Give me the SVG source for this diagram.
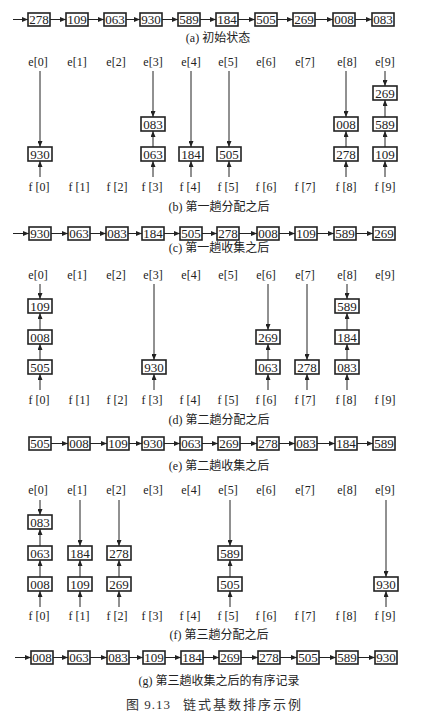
<svg xmlns="http://www.w3.org/2000/svg" width="423" height="721" viewBox="0 0 423 721">
<style>
.bg{fill:#fff}
.b{fill:#fff;stroke:#222;stroke-width:1.6}
.t{font-family:'Liberation Serif','Times New Roman','DejaVu Serif','Noto Sans CJK SC',serif;font-size:12px;fill:#222;text-anchor:middle}
.n{font-family:'Liberation Serif','Times New Roman','DejaVu Serif',serif;font-size:13px;fill:#222;text-anchor:middle}
.cap{font-family:'Liberation Serif','Times New Roman','DejaVu Serif','Noto Sans CJK SC',serif;font-size:12px;fill:#222;text-anchor:middle}
.fig{font-family:'Liberation Serif','Times New Roman','DejaVu Serif','Noto Sans CJK SC',serif;font-size:13px;fill:#333}
.cn line{stroke:#222;stroke-width:1;marker-end:url(#ah)}
</style>
<defs>
<marker id="ah" markerUnits="userSpaceOnUse" markerWidth="6" markerHeight="5" refX="6" refY="2.5" orient="auto">
<path d="M0,0 L6,2.5 L0,5 z" fill="#222"/>
</marker>
</defs>
<rect class="bg" x="0" y="0" width="423" height="721"/>

<!-- (a) initial list -->
<g id="a0"><rect class="b" x="28" y="13" width="22" height="13"/><text class="n" x="39" y="24">278</text></g>
<g id="a1"><rect class="b" x="66" y="13" width="22" height="13"/><text class="n" x="77" y="24">109</text></g>
<g id="a2"><rect class="b" x="104" y="13" width="22" height="13"/><text class="n" x="115" y="24">063</text></g>
<g id="a3"><rect class="b" x="140" y="13" width="22" height="13"/><text class="n" x="151" y="24">930</text></g>
<g id="a4"><rect class="b" x="178" y="13" width="22" height="13"/><text class="n" x="189" y="24">589</text></g>
<g id="a5"><rect class="b" x="216" y="13" width="22" height="13"/><text class="n" x="227" y="24">184</text></g>
<g id="a6"><rect class="b" x="255" y="13" width="22" height="13"/><text class="n" x="266" y="24">505</text></g>
<g id="a7"><rect class="b" x="293" y="13" width="22" height="13"/><text class="n" x="304" y="24">269</text></g>
<g id="a8"><rect class="b" x="333" y="13" width="22" height="13"/><text class="n" x="344" y="24">008</text></g>
<g id="a9"><rect class="b" x="372" y="13" width="22" height="13"/><text class="n" x="383" y="24">083</text></g>
<text class="cap" x="218" y="42">(a) 初始状态</text>

<!-- (b) -->
<g id="b-labels">
<text class="t" x="38" y="66">e[0]</text><text class="t" x="77" y="66">e[1]</text><text class="t" x="116" y="66">e[2]</text><text class="t" x="153" y="66">e[3]</text><text class="t" x="191" y="66">e[4]</text><text class="t" x="228" y="66">e[5]</text><text class="t" x="266" y="66">e[6]</text><text class="t" x="305" y="66">e[7]</text><text class="t" x="347" y="66">e[8]</text><text class="t" x="385" y="66">e[9]</text>
<text class="t" x="39" y="191">f [0]</text><text class="t" x="79" y="191">f [1]</text><text class="t" x="117" y="191">f [2]</text><text class="t" x="152" y="191">f [3]</text><text class="t" x="190" y="191">f [4]</text><text class="t" x="228" y="191">f [5]</text><text class="t" x="266" y="191">f [6]</text><text class="t" x="305" y="191">f [7]</text><text class="t" x="346" y="191">f [8]</text><text class="t" x="385" y="191">f [9]</text>
</g>
<g id="b930"><rect class="b" x="28" y="147" width="24" height="14"/><text class="n" x="40" y="158.5">930</text></g>
<g id="b063"><rect class="b" x="141" y="147" width="24" height="14"/><text class="n" x="153" y="158.5">063</text></g>
<g id="b083"><rect class="b" x="141" y="117" width="24" height="14"/><text class="n" x="153" y="128.5">083</text></g>
<g id="b184"><rect class="b" x="179" y="147" width="24" height="14"/><text class="n" x="191" y="158.5">184</text></g>
<g id="b505"><rect class="b" x="217" y="147" width="24" height="14"/><text class="n" x="229" y="158.5">505</text></g>
<g id="b278"><rect class="b" x="334" y="147" width="24" height="14"/><text class="n" x="346" y="158.5">278</text></g>
<g id="b008"><rect class="b" x="334" y="117" width="24" height="14"/><text class="n" x="346" y="128.5">008</text></g>
<g id="b109"><rect class="b" x="373" y="147" width="24" height="14"/><text class="n" x="385" y="158.5">109</text></g>
<g id="b589"><rect class="b" x="373" y="117" width="24" height="14"/><text class="n" x="385" y="128.5">589</text></g>
<g id="b269"><rect class="b" x="373" y="86" width="24" height="14"/><text class="n" x="385" y="97.5">269</text></g>
<text class="cap" x="219" y="211">(b) 第一趟分配之后</text>

<!-- (c) -->
<g id="c0"><rect class="b" x="29" y="227" width="22" height="13"/><text class="n" x="40" y="238">930</text></g>
<g id="c1"><rect class="b" x="68" y="227" width="22" height="13"/><text class="n" x="79" y="238">063</text></g>
<g id="c2"><rect class="b" x="106" y="227" width="22" height="13"/><text class="n" x="117" y="238">083</text></g>
<g id="c3"><rect class="b" x="142" y="227" width="22" height="13"/><text class="n" x="153" y="238">184</text></g>
<g id="c4"><rect class="b" x="180" y="227" width="22" height="13"/><text class="n" x="191" y="238">505</text></g>
<g id="c5"><rect class="b" x="217" y="227" width="22" height="13"/><text class="n" x="228" y="238">278</text></g>
<g id="c6"><rect class="b" x="257" y="227" width="22" height="13"/><text class="n" x="268" y="238">008</text></g>
<g id="c7"><rect class="b" x="295" y="227" width="22" height="13"/><text class="n" x="306" y="238">109</text></g>
<g id="c8"><rect class="b" x="334" y="227" width="22" height="13"/><text class="n" x="345" y="238">589</text></g>
<g id="c9"><rect class="b" x="373" y="227" width="22" height="13"/><text class="n" x="384" y="238">269</text></g>
<text class="cap" x="219" y="252">(c) 第一趟收集之后</text>

<!-- (d) -->
<g id="d-labels">
<text class="t" x="38" y="279">e[0]</text><text class="t" x="77" y="279">e[1]</text><text class="t" x="116" y="279">e[2]</text><text class="t" x="153" y="279">e[3]</text><text class="t" x="191" y="279">e[4]</text><text class="t" x="228" y="279">e[5]</text><text class="t" x="266" y="279">e[6]</text><text class="t" x="305" y="279">e[7]</text><text class="t" x="347" y="279">e[8]</text><text class="t" x="385" y="279">e[9]</text>
<text class="t" x="39" y="404">f [0]</text><text class="t" x="79" y="404">f [1]</text><text class="t" x="117" y="404">f [2]</text><text class="t" x="152" y="404">f [3]</text><text class="t" x="190" y="404">f [4]</text><text class="t" x="228" y="404">f [5]</text><text class="t" x="266" y="404">f [6]</text><text class="t" x="305" y="404">f [7]</text><text class="t" x="346" y="404">f [8]</text><text class="t" x="385" y="404">f [9]</text>
</g>
<g id="d505"><rect class="b" x="28" y="360" width="24" height="14"/><text class="n" x="40" y="371.5">505</text></g>
<g id="d008"><rect class="b" x="28" y="330" width="24" height="14"/><text class="n" x="40" y="341.5">008</text></g>
<g id="d109"><rect class="b" x="28" y="299" width="24" height="14"/><text class="n" x="40" y="310.5">109</text></g>
<g id="d930"><rect class="b" x="142" y="360" width="24" height="14"/><text class="n" x="154" y="371.5">930</text></g>
<g id="d063"><rect class="b" x="256" y="360" width="24" height="14"/><text class="n" x="268" y="371.5">063</text></g>
<g id="d269"><rect class="b" x="256" y="330" width="24" height="14"/><text class="n" x="268" y="341.5">269</text></g>
<g id="d278"><rect class="b" x="295" y="360" width="24" height="14"/><text class="n" x="307" y="371.5">278</text></g>
<g id="d083"><rect class="b" x="335" y="360" width="24" height="14"/><text class="n" x="347" y="371.5">083</text></g>
<g id="d184"><rect class="b" x="335" y="330" width="24" height="14"/><text class="n" x="347" y="341.5">184</text></g>
<g id="d589"><rect class="b" x="335" y="299" width="24" height="14"/><text class="n" x="347" y="310.5">589</text></g>
<text class="cap" x="219" y="424">(d) 第二趟分配之后</text>

<!-- (e) -->
<g id="e0"><rect class="b" x="29" y="437" width="22" height="13"/><text class="n" x="40" y="448">505</text></g>
<g id="e1"><rect class="b" x="68" y="437" width="22" height="13"/><text class="n" x="79" y="448">008</text></g>
<g id="e2"><rect class="b" x="107" y="437" width="22" height="13"/><text class="n" x="118" y="448">109</text></g>
<g id="e3"><rect class="b" x="142" y="437" width="22" height="13"/><text class="n" x="153" y="448">930</text></g>
<g id="e4"><rect class="b" x="180" y="437" width="22" height="13"/><text class="n" x="191" y="448">063</text></g>
<g id="e5"><rect class="b" x="218" y="437" width="22" height="13"/><text class="n" x="229" y="448">269</text></g>
<g id="e6"><rect class="b" x="257" y="437" width="22" height="13"/><text class="n" x="268" y="448">278</text></g>
<g id="e7"><rect class="b" x="295" y="437" width="22" height="13"/><text class="n" x="306" y="448">083</text></g>
<g id="e8"><rect class="b" x="335" y="437" width="22" height="13"/><text class="n" x="346" y="448">184</text></g>
<g id="e9"><rect class="b" x="373" y="437" width="22" height="13"/><text class="n" x="384" y="448">589</text></g>
<text class="cap" x="219" y="470">(e) 第二趟收集之后</text>

<!-- (f) -->
<g id="f-labels">
<text class="t" x="38" y="494">e[0]</text><text class="t" x="77" y="494">e[1]</text><text class="t" x="116" y="494">e[2]</text><text class="t" x="153" y="494">e[3]</text><text class="t" x="191" y="494">e[4]</text><text class="t" x="228" y="494">e[5]</text><text class="t" x="266" y="494">e[6]</text><text class="t" x="305" y="494">e[7]</text><text class="t" x="347" y="494">e[8]</text><text class="t" x="385" y="494">e[9]</text>
<text class="t" x="39" y="620">f [0]</text><text class="t" x="79" y="620">f [1]</text><text class="t" x="117" y="620">f [2]</text><text class="t" x="152" y="620">f [3]</text><text class="t" x="190" y="620">f [4]</text><text class="t" x="228" y="620">f [5]</text><text class="t" x="266" y="620">f [6]</text><text class="t" x="305" y="620">f [7]</text><text class="t" x="346" y="620">f [8]</text><text class="t" x="385" y="620">f [9]</text>
</g>
<g id="f008"><rect class="b" x="28" y="577" width="24" height="14"/><text class="n" x="40" y="588.5">008</text></g>
<g id="f063"><rect class="b" x="28" y="546" width="24" height="14"/><text class="n" x="40" y="557.5">063</text></g>
<g id="f083"><rect class="b" x="28" y="515" width="24" height="14"/><text class="n" x="40" y="526.5">083</text></g>
<g id="f109"><rect class="b" x="68" y="577" width="24" height="14"/><text class="n" x="80" y="588.5">109</text></g>
<g id="f184"><rect class="b" x="68" y="546" width="24" height="14"/><text class="n" x="80" y="557.5">184</text></g>
<g id="f269"><rect class="b" x="107" y="577" width="24" height="14"/><text class="n" x="119" y="588.5">269</text></g>
<g id="f278"><rect class="b" x="107" y="546" width="24" height="14"/><text class="n" x="119" y="557.5">278</text></g>
<g id="f505"><rect class="b" x="218" y="577" width="24" height="14"/><text class="n" x="230" y="588.5">505</text></g>
<g id="f589"><rect class="b" x="218" y="546" width="24" height="14"/><text class="n" x="230" y="557.5">589</text></g>
<g id="f930"><rect class="b" x="374" y="577" width="24" height="14"/><text class="n" x="386" y="588.5">930</text></g>
<text class="cap" x="219" y="639">(f) 第三趟分配之后</text>

<!-- (g) -->
<g id="g0"><rect class="b" x="31" y="651" width="22" height="13"/><text class="n" x="42" y="662">008</text></g>
<g id="g1"><rect class="b" x="68" y="651" width="22" height="13"/><text class="n" x="79" y="662">063</text></g>
<g id="g2"><rect class="b" x="107" y="651" width="22" height="13"/><text class="n" x="118" y="662">083</text></g>
<g id="g3"><rect class="b" x="143" y="651" width="22" height="13"/><text class="n" x="154" y="662">109</text></g>
<g id="g4"><rect class="b" x="181" y="651" width="22" height="13"/><text class="n" x="192" y="662">184</text></g>
<g id="g5"><rect class="b" x="219" y="651" width="22" height="13"/><text class="n" x="230" y="662">269</text></g>
<g id="g6"><rect class="b" x="258" y="651" width="22" height="13"/><text class="n" x="269" y="662">278</text></g>
<g id="g7"><rect class="b" x="297" y="651" width="22" height="13"/><text class="n" x="308" y="662">505</text></g>
<g id="g8"><rect class="b" x="336" y="651" width="22" height="13"/><text class="n" x="347" y="662">589</text></g>
<g id="g9"><rect class="b" x="375" y="651" width="22" height="13"/><text class="n" x="386" y="662">930</text></g>
<text class="cap" x="219" y="685">(g) 第三趟收集之后的有序记录</text>

<text class="fig" x="126" y="709" letter-spacing="1">图 9.13</text>
<text class="fig" x="183" y="709" letter-spacing="2">链式基数排序示例</text>

<g id="connectors" class="cn">
<line x1="13" y1="19.5" x2="28" y2="19.5"/>
<line x1="50" y1="19.5" x2="66" y2="19.5"/>
<line x1="88" y1="19.5" x2="104" y2="19.5"/>
<line x1="126" y1="19.5" x2="140" y2="19.5"/>
<line x1="162" y1="19.5" x2="178" y2="19.5"/>
<line x1="200" y1="19.5" x2="216" y2="19.5"/>
<line x1="238" y1="19.5" x2="255" y2="19.5"/>
<line x1="277" y1="19.5" x2="293" y2="19.5"/>
<line x1="315" y1="19.5" x2="333" y2="19.5"/>
<line x1="355" y1="19.5" x2="372" y2="19.5"/>
<line x1="40" y1="71" x2="40" y2="147"/>
<line x1="40" y1="177" x2="40" y2="161"/>
<line x1="153" y1="71" x2="153" y2="117"/>
<line x1="153" y1="147" x2="153" y2="131"/>
<line x1="153" y1="177" x2="153" y2="161"/>
<line x1="191" y1="71" x2="191" y2="147"/>
<line x1="191" y1="177" x2="191" y2="161"/>
<line x1="229" y1="71" x2="229" y2="147"/>
<line x1="229" y1="177" x2="229" y2="161"/>
<line x1="346" y1="71" x2="346" y2="117"/>
<line x1="346" y1="147" x2="346" y2="131"/>
<line x1="346" y1="177" x2="346" y2="161"/>
<line x1="385" y1="71" x2="385" y2="86"/>
<line x1="385" y1="117" x2="385" y2="100"/>
<line x1="385" y1="147" x2="385" y2="131"/>
<line x1="385" y1="177" x2="385" y2="161"/>
<line x1="13" y1="233.5" x2="29" y2="233.5"/>
<line x1="51" y1="233.5" x2="68" y2="233.5"/>
<line x1="90" y1="233.5" x2="106" y2="233.5"/>
<line x1="128" y1="233.5" x2="142" y2="233.5"/>
<line x1="164" y1="233.5" x2="180" y2="233.5"/>
<line x1="202" y1="233.5" x2="217" y2="233.5"/>
<line x1="239" y1="233.5" x2="257" y2="233.5"/>
<line x1="279" y1="233.5" x2="295" y2="233.5"/>
<line x1="317" y1="233.5" x2="334" y2="233.5"/>
<line x1="356" y1="233.5" x2="373" y2="233.5"/>
<line x1="40" y1="284" x2="40" y2="299"/>
<line x1="40" y1="330" x2="40" y2="313"/>
<line x1="40" y1="360" x2="40" y2="344"/>
<line x1="40" y1="390" x2="40" y2="374"/>
<line x1="154" y1="284" x2="154" y2="360"/>
<line x1="154" y1="390" x2="154" y2="374"/>
<line x1="268" y1="284" x2="268" y2="330"/>
<line x1="268" y1="360" x2="268" y2="344"/>
<line x1="268" y1="390" x2="268" y2="374"/>
<line x1="307" y1="284" x2="307" y2="360"/>
<line x1="307" y1="390" x2="307" y2="374"/>
<line x1="347" y1="284" x2="347" y2="299"/>
<line x1="347" y1="330" x2="347" y2="313"/>
<line x1="347" y1="360" x2="347" y2="344"/>
<line x1="347" y1="390" x2="347" y2="374"/>
<line x1="51" y1="443.5" x2="68" y2="443.5"/>
<line x1="90" y1="443.5" x2="107" y2="443.5"/>
<line x1="129" y1="443.5" x2="142" y2="443.5"/>
<line x1="164" y1="443.5" x2="180" y2="443.5"/>
<line x1="202" y1="443.5" x2="218" y2="443.5"/>
<line x1="240" y1="443.5" x2="257" y2="443.5"/>
<line x1="279" y1="443.5" x2="295" y2="443.5"/>
<line x1="317" y1="443.5" x2="335" y2="443.5"/>
<line x1="357" y1="443.5" x2="373" y2="443.5"/>
<line x1="40" y1="500" x2="40" y2="515"/>
<line x1="40" y1="546" x2="40" y2="529"/>
<line x1="40" y1="577" x2="40" y2="560"/>
<line x1="40" y1="607" x2="40" y2="591"/>
<line x1="80" y1="500" x2="80" y2="546"/>
<line x1="80" y1="577" x2="80" y2="560"/>
<line x1="80" y1="607" x2="80" y2="591"/>
<line x1="119" y1="500" x2="119" y2="546"/>
<line x1="119" y1="577" x2="119" y2="560"/>
<line x1="119" y1="607" x2="119" y2="591"/>
<line x1="230" y1="500" x2="230" y2="546"/>
<line x1="230" y1="577" x2="230" y2="560"/>
<line x1="230" y1="607" x2="230" y2="591"/>
<line x1="386" y1="500" x2="386" y2="577"/>
<line x1="386" y1="607" x2="386" y2="591"/>
<line x1="15" y1="657.5" x2="31" y2="657.5"/>
<line x1="53" y1="657.5" x2="68" y2="657.5"/>
<line x1="90" y1="657.5" x2="107" y2="657.5"/>
<line x1="129" y1="657.5" x2="143" y2="657.5"/>
<line x1="165" y1="657.5" x2="181" y2="657.5"/>
<line x1="203" y1="657.5" x2="219" y2="657.5"/>
<line x1="241" y1="657.5" x2="258" y2="657.5"/>
<line x1="280" y1="657.5" x2="297" y2="657.5"/>
<line x1="319" y1="657.5" x2="336" y2="657.5"/>
<line x1="358" y1="657.5" x2="375" y2="657.5"/>
</g>
</svg>
